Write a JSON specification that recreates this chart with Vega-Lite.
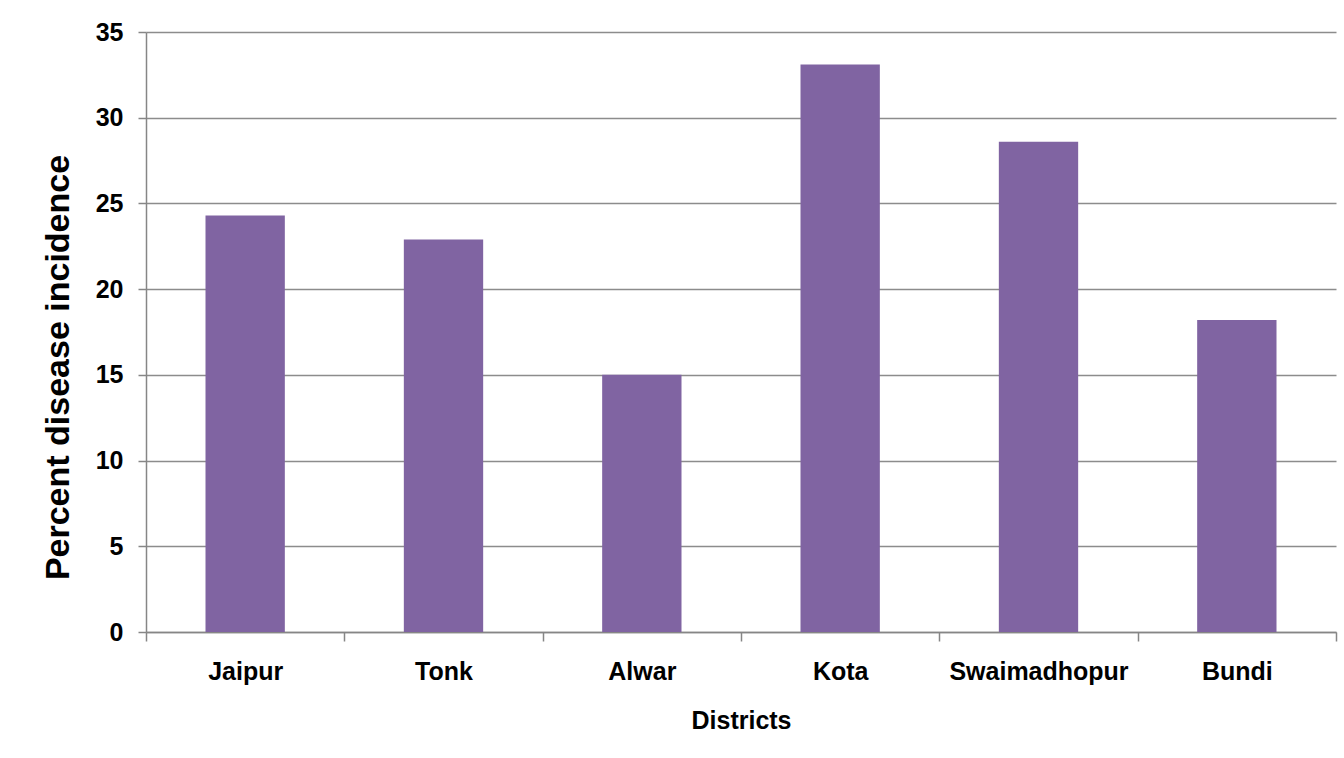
{
  "$schema": "https://vega.github.io/schema/vega-lite/v6.json",
  "width": 1190,
  "height": 600,
  "autosize": "none",
  "padding": {"left": 146, "top": 32, "right": 8, "bottom": 126},
  "background": "white",
  "config": {
    "view": {"stroke": null},
    "font": "Liberation Sans"
  },
  "data": {
    "values": [
      {"District": "Jaipur", "Incidence": 24.3},
      {"District": "Tonk", "Incidence": 22.9},
      {"District": "Alwar", "Incidence": 15.0},
      {"District": "Kota", "Incidence": 33.1},
      {"District": "Swaimadhopur", "Incidence": 28.6},
      {"District": "Bundi", "Incidence": 18.2}
    ]
  },
  "mark": {"type": "bar", "color": "#8064A2", "width": {"band": 0.4}},
  "encoding": {
    "x": {
      "field": "District",
      "type": "nominal",
      "sort": null,
      "scale": {"paddingInner": 0, "paddingOuter": 0},
      "axis": {
        "title": "Districts",
        "titleFont": "Liberation Sans",
        "titleFontSize": 25,
        "titleFontWeight": "bold",
        "titleColor": "#000000",
        "titlePadding": 24,
        "labelFont": "Liberation Sans",
        "labelFontSize": 25,
        "labelFontWeight": "bold",
        "labelColor": "#000000",
        "labelAngle": 0,
        "labelPadding": 18,
        "labelBound": false,
        "labelOverlap": false,
        "tickBand": "extent",
        "tickSize": 9,
        "tickColor": "#868686",
        "tickWidth": 1.5,
        "domainColor": "#868686",
        "domainWidth": 1.5,
        "grid": false
      }
    },
    "y": {
      "field": "Incidence",
      "type": "quantitative",
      "scale": {"domain": [0, 35], "nice": false},
      "axis": {
        "title": "Percent disease incidence",
        "titleFont": "Liberation Sans",
        "titleFontSize": 34,
        "titleFontWeight": "bold",
        "titleColor": "#000000",
        "titlePadding": 20,
        "titleY": 335,
        "values": [0, 5, 10, 15, 20, 25, 30, 35],
        "labelFont": "Liberation Sans",
        "labelFontSize": 25,
        "labelFontWeight": "bold",
        "labelColor": "#000000",
        "labelPadding": 15,
        "tickSize": 8,
        "tickColor": "#868686",
        "tickWidth": 1.5,
        "domainColor": "#868686",
        "domainWidth": 1.5,
        "grid": true,
        "gridColor": "#8c8c8c",
        "gridWidth": 1.5
      }
    }
  }
}
